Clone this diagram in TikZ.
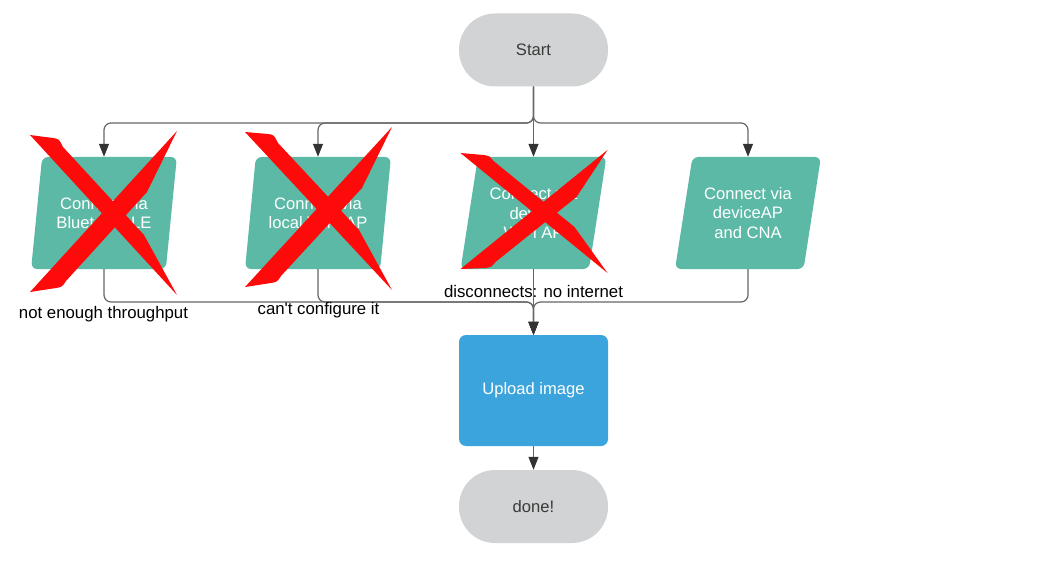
\documentclass[tikz,border=0pt]{standalone}
\usepackage{fontspec}
\setmainfont{Liberation Sans}
\usetikzlibrary{arrows.meta,shapes.geometric}

\definecolor{termgray}{HTML}{D1D3D4}
\definecolor{stepteal}{HTML}{5BB9A6}
\definecolor{stepblue}{HTML}{3BA4DC}
\definecolor{xred}{HTML}{FF0A0A}
\definecolor{textdark}{HTML}{3A3A3A}

\begin{document}
\begin{tikzpicture}[x=1pt, y=1pt,
  every node/.style={font=\fontsize{16.6}{19.5}\selectfont},
  terminal/.style={fill=termgray, rounded corners=36pt, minimum width=149pt, minimum height=73pt, text=textdark},
  iobox/.style={trapezium, trapezium left angle=75, trapezium right angle=105, trapezium stretches=true, fill=stepteal, rounded corners=6pt, minimum width=146pt, minimum height=112pt, inner sep=0pt, text=white, align=center},
  process/.style={fill=stepblue, rounded corners=7pt, minimum width=149pt, minimum height=111pt, text=white},
  conn/.style={draw=black!60, line width=1.2pt, rounded corners=7pt, -{Triangle[length=13pt, width=10pt, color=black!80]}},
  note/.style={text=black, font=\fontsize{16.8}{19.5}\selectfont},
  xmark/.style={fill=xred}]
\useasboundingbox (0,0) rectangle (1059,563);

% boxes
\node[terminal] (start) at (533.5,513) {Start};
\node[iobox] (ble) at (104,350) {Connect via\\Bluetooth LE};
\node[iobox] (localap) at (318,350) {Connect via\\local WiFi AP};
\node[iobox] (devap) at (533.5,350) {Connect via\\device\\WiFi AP};
\node[iobox] (cna) at (748,350) {Connect via\\deviceAP\\and CNA};
\node[process] (upload) at (533.5,172.5) {Upload image};
\node[terminal] (done) at (533.5,56.5) {done!};

\coordinate (split) at (533.5,440);
\coordinate (merge) at (533.5,261);

% connectors
\draw[conn] (start.south) -- (split) -| (ble.center |- ble.north);
\draw[conn] (start.south) -- (split) -| (localap.center |- localap.north);
\draw[conn] (start.south) -- (devap.center |- devap.north);
\draw[conn] (start.south) -- (split) -| (cna.center |- cna.north);
\draw[conn] (ble.center |- ble.south) |- (merge) -- (upload.north);
\draw[conn] (localap.center |- localap.south) |- (merge) -- (upload.north);
\draw[conn] (devap.center |- devap.south) -- (upload.north);
\draw[conn] (cna.center |- cna.south) |- (merge) -- (upload.north);
\draw[conn] (upload.south) -- (done.north);

% reasons
\node[note] (bletxt) at (103.5,249) {not enough throughput};
\node[note] (localaptxt) at (318.5,253) {can\textquotesingle t configure it};
\node[note] (devaptxt) at (533.5,272) {disconnects: no internet};

% crosses
\begin{scope}[shift={(104,349)}]
\fill[xmark] (-74,79) -- (-51,76) .. controls (-45,75) .. (-41,67) -- (40,-21) -- (73,-81) -- cycle;
\fill[xmark] (73,83) -- (43,22) -- (-38,-67) .. controls (-42,-73) .. (-48,-74) -- (-74,-78) -- cycle;
\end{scope}
\begin{scope}[shift={(318,349)}]
\fill[xmark] (-73,82) -- (-50,80) .. controls (-44,79) .. (-40,71) -- (41,-16) -- (74,-76) -- cycle;
\fill[xmark] (74,87) -- (44,26) -- (-37,-62) .. controls (-41,-68) .. (-47,-69) -- (-73,-73) -- cycle;
\end{scope}
\begin{scope}[shift={(533.5,349)}]
\fill[xmark] (-73,61) -- (-50,59) .. controls (-44,58) .. (-40,53) -- (41,-13) -- (74,-59) -- cycle;
\fill[xmark] (74,64) -- (43,17) -- (-38,-48) .. controls (-42,-53) .. (-48,-54) -- (-73,-55) -- cycle;
\end{scope}
\end{tikzpicture}
\end{document}
